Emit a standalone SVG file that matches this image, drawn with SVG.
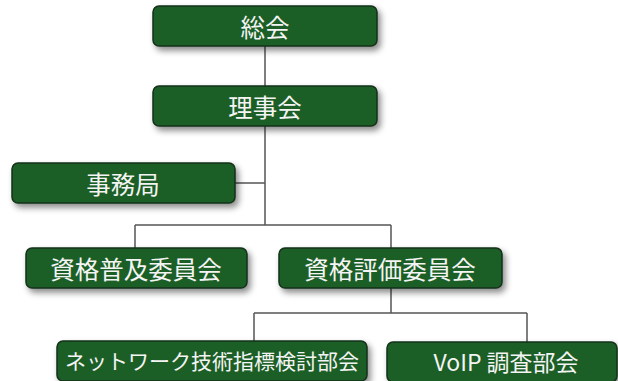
<svg xmlns="http://www.w3.org/2000/svg" width="618" height="381" viewBox="0 0 618 381">
<defs>
<filter id="sh" x="-10%" y="-30%" width="130%" height="180%">
<feDropShadow dx="3" dy="4" stdDeviation="3" flood-color="#000" flood-opacity="0.45"/>
</filter>
<style>
.box{fill:#1d5e27;stroke:#15301a;stroke-width:1.5;filter:url(#sh)}
.t{fill:#f4f4f4;font-family:"Noto Sans CJK JP","Noto Sans",sans-serif;font-size:24.5px;text-anchor:middle;dominant-baseline:central}
.c{fill:none;stroke:#555;stroke-width:1.5}
</style>
</defs>
<rect width="618" height="381" fill="#fff"/>
<g id="connectors">
<path class="c" d="M265 46V86M265 126V225M235 183H265M135 225H391M135 225V248M391 225V248M391 288V313M254 313H527M254 313V341M527 313V342"/>
</g>
<g id="soukai"><rect class="box" x="153" y="6" width="224" height="40" rx="6"/><text class="t" x="265" y="26">総会</text></g>
<g id="rijikai"><rect class="box" x="153" y="86" width="224" height="40" rx="6"/><text class="t" x="265" y="106">理事会</text></g>
<g id="jimukyoku"><rect class="box" x="12" y="163" width="223" height="40" rx="6"/><text class="t" x="123" y="183">事務局</text></g>
<g id="fukyu"><rect class="box" x="26" y="248" width="221" height="40" rx="6"/><text class="t" x="136" y="268">資格普及委員会</text></g>
<g id="hyoka"><rect class="box" x="279" y="248" width="223" height="40" rx="6"/><text class="t" x="390" y="268">資格評価委員会</text></g>
<g id="network"><rect class="box" x="57" y="341" width="310" height="40" rx="6"/><text class="t" x="212" y="360" style="font-size:21px">ネットワーク技術指標検討部会</text></g>
<g id="voip"><rect class="box" x="387" y="342" width="230" height="40" rx="6"/><text class="t" x="506" y="361" style="font-size:23px">VoIP 調査部会</text></g>
</svg>
